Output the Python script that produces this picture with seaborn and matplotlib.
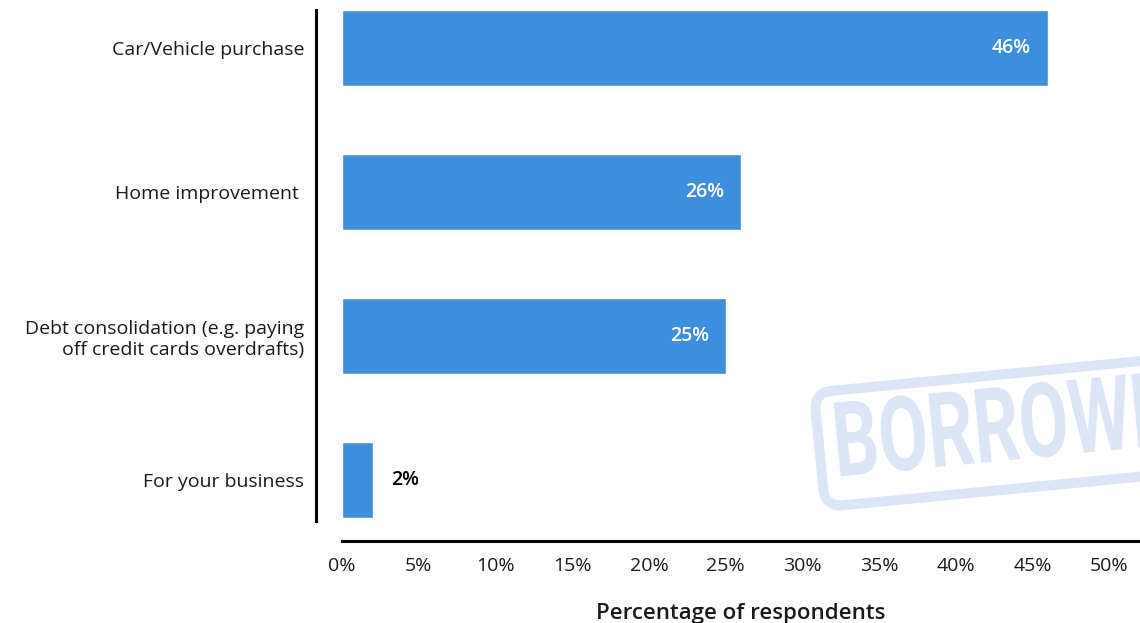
import matplotlib
matplotlib.use("Agg")
import matplotlib.pyplot as plt
import seaborn as sns
import pandas as pd
from matplotlib.textpath import TextPath
from matplotlib.patches import PathPatch, FancyBboxPatch
from matplotlib.font_manager import FontProperties
from matplotlib.transforms import Affine2D

# dados
categorias = [
    "Car/Vehicle purchase",
    "Home improvement ",
    "Debt consolidation (e.g. paying\noff credit cards overdrafts)",
    "For your business",
]
valores = [46, 26, 25, 2]
ticks = [0, 5, 10, 15, 20, 25, 30, 35, 40, 45, 50]

AZUL = "#3d8edd"
CINZA_MARCA = "#dce5f5"
FONTE = ["Open Sans", "DejaVu Sans"]
PX = 72 / 100  # pixels -> pontos (dpi 100)

sns.set_style("white")
plt.rcParams["font.family"] = FONTE

df = pd.DataFrame({"motivo": categorias, "pct": valores})

fig = plt.figure(figsize=(11.4, 6.23), dpi=100)
ax = fig.add_axes([342 / 1140, 1 - 521 / 623, 798 / 1140, 511 / 623])
ax.set_facecolor("none")

sns.barplot(data=df, x="pct", y="motivo", orient="h", color=AZUL,
            saturation=1, width=0.53, ax=ax, zorder=3)

ax.set_xlim(0, 52)
ax.set_ylim(3.285, -0.264)
ax.set_xticks(ticks)
ax.set_xticklabels([f"{t}%" for t in ticks])
ax.tick_params(axis="x", length=0, pad=16 * PX, labelsize=14, labelcolor="#1a1a1a")
ax.tick_params(axis="y", length=0, pad=12 * PX, labelsize=14, labelcolor="#1a1a1a")
for lab in ax.get_yticklabels():
    lab.set_fontweight("semibold")

ax.set_ylabel("")
ax.set_xlabel("Percentage of respondents", fontsize=16, fontweight="semibold",
              labelpad=28 * PX, color="#1a1a1a")

for lado in ["top", "right"]:
    ax.spines[lado].set_visible(False)
ax.spines["left"].set_position(("outward", 26 * PX))
ax.spines["bottom"].set_position(("outward", 20 * PX))
for lado in ["left", "bottom"]:
    ax.spines[lado].set_linewidth(2.2)
    ax.spines[lado].set_color("black")

# rótulos das barras
for i, v in enumerate(valores):
    if v > 10:
        ax.text(v - 1.1, i, f"{v}%", ha="right", va="center", zorder=4,
                color="white", fontsize=14, fontweight="semibold")
    else:
        ax.text(v + 1.2, i, f"{v}%", ha="left", va="center", zorder=4,
                color="black", fontsize=14, fontweight="semibold")

# marca d'água (carimbo inclinado, cortado na borda direita)
giro = Affine2D().rotate_deg(5.5).translate(825, 116)
caixa = FancyBboxPatch((0, 0), 700, 115, boxstyle="round,pad=0,rounding_size=18",
                       fc="none", ec=CINZA_MARCA, lw=10 * PX,
                       transform=giro, zorder=0)
fig.add_artist(caixa)
letras = TextPath((0, 0), "BORROWELL", size=104,
                  prop=FontProperties(family="Roboto", weight="bold"))
marca = PathPatch(letras, fc=CINZA_MARCA, ec="none", zorder=0,
                  transform=Affine2D().scale(0.69, 1).translate(14, 29) + giro)
fig.add_artist(marca)

fig.savefig("out.png", dpi=100)
